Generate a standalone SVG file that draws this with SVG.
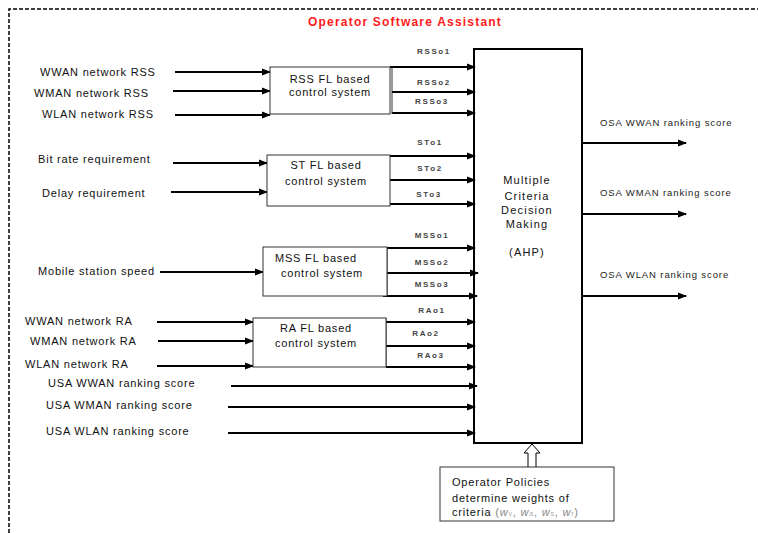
<svg xmlns="http://www.w3.org/2000/svg" width="758" height="533" viewBox="0 0 758 533">
<defs>
<marker id="ah" markerWidth="9" markerHeight="8" refX="8" refY="4" orient="auto" markerUnits="userSpaceOnUse">
<path d="M0,0.5 L9,4 L0,7.5 Z" fill="#000"/>
</marker>
<style>
.t{font-family:"Liberation Sans",Arial,sans-serif;font-size:11px;fill:#111;letter-spacing:0.8px}
.c{text-anchor:middle}
.s{font-family:"Liberation Sans",Arial,sans-serif;font-size:8px;font-weight:bold;fill:#444;letter-spacing:1.6px;text-anchor:middle}
.o{font-family:"Liberation Sans",Arial,sans-serif;font-size:9.5px;fill:#222;letter-spacing:0.9px}
.box{fill:#fff;stroke:#333;stroke-width:1}
.ar{stroke:#000;stroke-width:2;fill:none;marker-end:url(#ah)}
.w{font-style:italic;fill:#888}
</style>
</defs>
<rect width="758" height="533" fill="#fff"/>
<path d="M9,533 V9 H758" fill="none" stroke="#000" stroke-width="1.5" stroke-dasharray="4,2"/>
<text x="405" y="26" text-anchor="middle" style="font-family:'Liberation Sans',Arial,sans-serif;font-size:12px;font-weight:bold;fill:#ff1a1a;letter-spacing:1.2px">Operator Software Assistant</text>

<g id="connectors">
<path class="ar" d="M175,72 H270"/>
<path class="ar" d="M173,91 H270"/>
<path class="ar" d="M175,115 H270"/>
<path class="ar" d="M390,67 H475"/>
<path class="ar" d="M392,92 H475"/>
<path class="ar" d="M392,113 H475"/>
<path d="M392,67 V114" stroke="#333" stroke-width="1"/>
<path class="ar" d="M173,163 H267"/>
<path class="ar" d="M171,192 H267"/>
<path class="ar" d="M390,156 H475"/>
<path class="ar" d="M390,180 H475"/>
<path class="ar" d="M390,204 H475"/>
<path class="ar" d="M160,272 H263"/>
<path class="ar" d="M387,248 H475"/>
<path class="ar" d="M383,273 H478"/>
<path class="ar" d="M383,296 H477"/>
<path d="M387,247 V296" stroke="#333" stroke-width="1"/>
<path class="ar" d="M157,322 H253"/>
<path class="ar" d="M158,341 H253"/>
<path class="ar" d="M157,366 H253"/>
<path class="ar" d="M386,322 H475"/>
<path class="ar" d="M382,346 H475"/>
<path class="ar" d="M386,367 H475"/>
<path d="M386,318 V367" stroke="#333" stroke-width="1"/>
<path class="ar" d="M231,386 H477"/>
<path class="ar" d="M228,407 H475"/>
<path class="ar" d="M228,433 H475"/>
<path class="ar" d="M582,143 H686"/>
<path class="ar" d="M582,214 H686"/>
<path class="ar" d="M582,296 H686"/>
<path d="M528,467 V453 H524 L532,444 L540,453 H536 V467" fill="#fff" stroke="#000" stroke-width="1"/>
</g>

<g class="t">
<text x="40" y="76">WWAN network RSS</text>
<text x="34" y="97">WMAN network RSS</text>
<text x="42" y="118">WLAN network RSS</text>
<text x="38" y="163">Bit rate requirement</text>
<text x="42" y="197">Delay requirement</text>
<text x="38" y="275">Mobile station speed</text>
<text x="25" y="325">WWAN network RA</text>
<text x="30" y="345">WMAN network RA</text>
<text x="25" y="368">WLAN network RA</text>
<text x="48" y="387">USA WWAN ranking score</text>
<text x="46" y="409">USA WMAN ranking score</text>
<text x="46" y="435">USA WLAN ranking score</text>
</g>

<g>
<text class="s" x="434" y="54">RSSo1</text>
<text class="s" x="434" y="85">RSSo2</text>
<text class="s" x="432" y="104">RSSo3</text>
<text class="s" x="430" y="145">STo1</text>
<text class="s" x="430" y="171">STo2</text>
<text class="s" x="429" y="197">STo3</text>
<text class="s" x="432" y="238">MSSo1</text>
<text class="s" x="432" y="265">MSSo2</text>
<text class="s" x="432" y="287">MSSo3</text>
<text class="s" x="432" y="313">RAo1</text>
<text class="s" x="426" y="336">RAo2</text>
<text class="s" x="431" y="358">RAo3</text>
</g>

<g>
<text class="o" x="600" y="126">OSA WWAN ranking score</text>
<text class="o" x="600" y="196">OSA WMAN ranking score</text>
<text class="o" x="600" y="278">OSA WLAN ranking score</text>
</g>

<g id="rss">
<rect class="box" x="270" y="67" width="120" height="47"/>
<text class="t c" x="330" y="83">RSS FL based</text>
<text class="t c" x="330" y="96">control system</text>
</g>
<g id="st">
<rect class="box" x="267" y="155" width="123" height="51"/>
<text class="t c" x="326" y="169">ST FL based</text>
<text class="t c" x="326" y="185">control system</text>
</g>
<g id="mss">
<rect class="box" x="263" y="247" width="124" height="49"/>
<text class="t c" x="316" y="262">MSS FL based</text>
<text class="t c" x="322" y="277">control system</text>
</g>
<g id="ra">
<rect class="box" x="253" y="318" width="133" height="49"/>
<text class="t c" x="316" y="332">RA FL based</text>
<text class="t c" x="316" y="347">control system</text>
</g>
<g id="ahp">
<rect x="474" y="49" width="108" height="394" fill="none" stroke="#000" stroke-width="2"/>
<text class="t c" x="527" y="184" style="letter-spacing:1.2px">Multiple</text>
<text class="t c" x="527" y="200" style="letter-spacing:1.2px">Criteria</text>
<text class="t c" x="527" y="214" style="letter-spacing:1.2px">Decision</text>
<text class="t c" x="527" y="228" style="letter-spacing:1.2px">Making</text>
<text class="t c" x="527" y="256" style="letter-spacing:1.2px">(AHP)</text>
</g>
<g id="policies">
<rect class="box" x="440" y="467" width="174" height="54"/>
<text class="t" x="452" y="486">Operator Policies</text>
<text class="t" x="452" y="502">determine weights of</text>
<text class="t" x="452" y="516">criteria <tspan fill="#888">(</tspan><tspan class="w">w</tspan><tspan fill="#aaa" font-size="7">v</tspan><tspan fill="#888">, </tspan><tspan class="w">w</tspan><tspan fill="#aaa" font-size="7">a</tspan><tspan fill="#888">, </tspan><tspan class="w">w</tspan><tspan fill="#aaa" font-size="7">s</tspan><tspan fill="#888">, </tspan><tspan class="w">w</tspan><tspan fill="#aaa" font-size="7">r</tspan><tspan fill="#888">)</tspan></text>
</g>
</svg>
